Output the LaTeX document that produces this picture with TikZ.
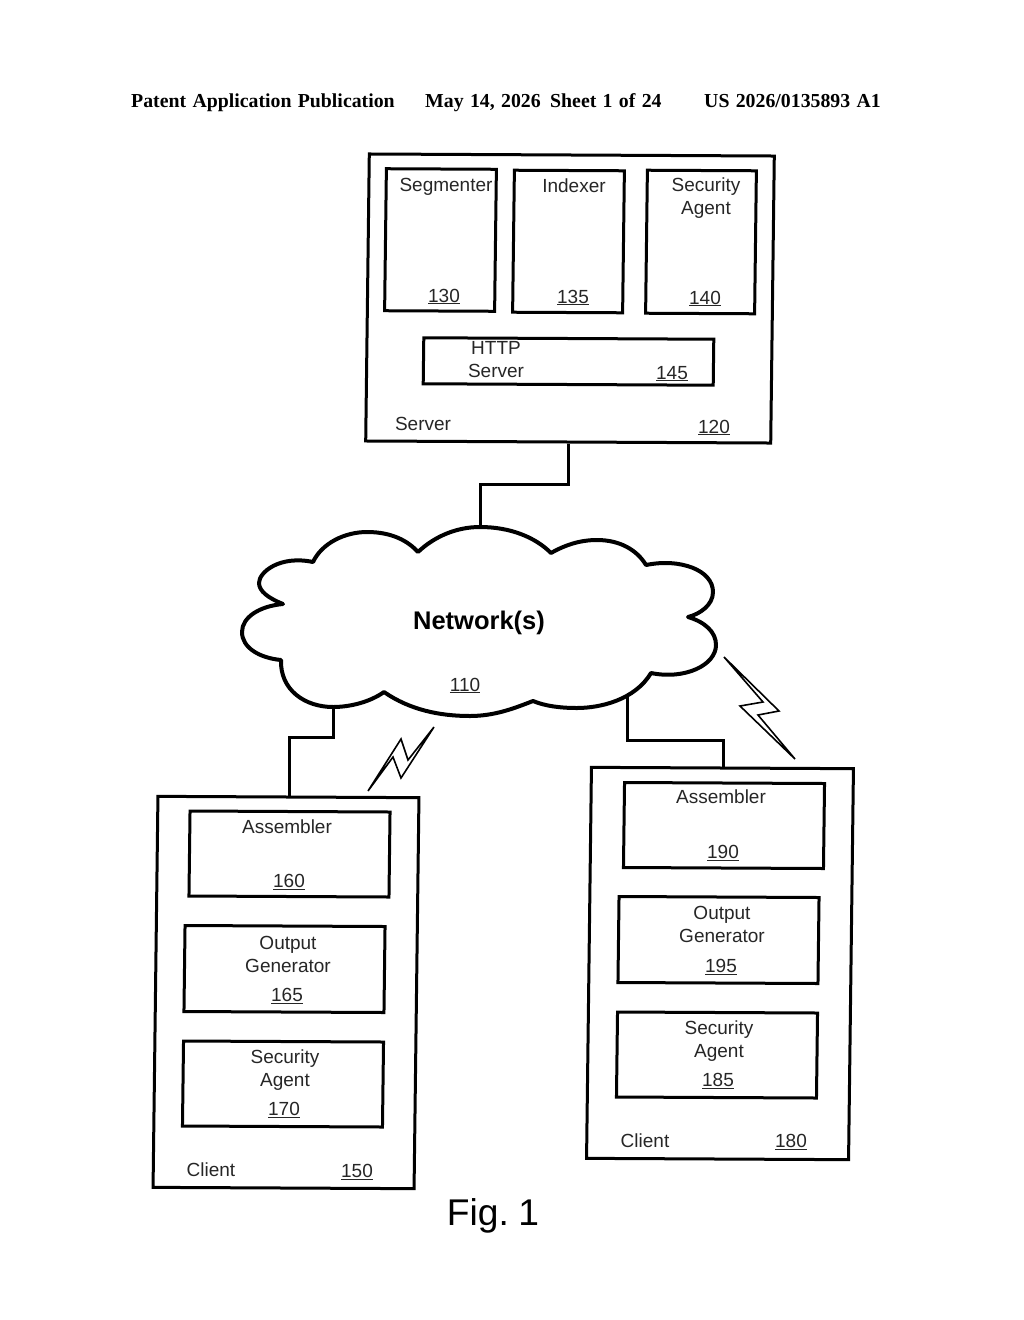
\documentclass[tikz,border=0pt]{standalone}
\usepackage{fontspec}
\setmainfont{Liberation Sans}
\newfontfamily\headfont[WordSpace=1.28]{Liberation Serif}
\tikzset{
  box/.style={draw=black, line width=3pt, cm={1,-0.005,0.0125,1,(0,0)}, inner sep=0pt},
  wire/.style={draw=black, line width=3pt},
  bolt/.style={draw=black, line width=1.6pt},
  lbl/.style={inner sep=0pt, text=black!85, font=\fontsize{19}{23}\selectfont, text height=14pt, text depth=0pt},
  lines/.style={inner sep=0pt, text=black!85, font=\fontsize{19}{23}\selectfont, align=center, anchor=north},
  head/.style={inner sep=0pt, anchor=base west, font=\headfont\bfseries\fontsize{19.8}{23}\selectfont}
}
\begin{document}
\begin{tikzpicture}[x=1pt, y=-1pt]
  \useasboundingbox (0,0) rectangle (1024,1320);

  % page header
  \node[head] (headA) at (131,107) {Patent Application Publication};
  \node[head] (headB) at (425,107) {May 14, 2026};
  \node[head] (headC) at (550,107) {Sheet 1 of 24};
  \node[head] (headD) at (704,107) {US 2026/0135893 A1};

  % server
  \node[box, minimum width=405pt, minimum height=287pt] (server) at (570,298.5) {};
  \node[box, minimum width=110pt, minimum height=142pt] (segmenter) at (440.5,240) {};
  \node[box, minimum width=110pt, minimum height=142pt] (indexer) at (568.5,241.5) {};
  \node[box, minimum width=109pt, minimum height=143pt] (secserver) at (701,242) {};
  \node[box, minimum width=290pt, minimum height=46pt] (http) at (568.5,361.5) {};

  \node[lbl] (segmentertxt) at (446,184) {Segmenter};
  \node[lbl] (indexertxt) at (574,185) {Indexer};
  \node[lines] (secservertxt) at (706,178) {Security\\Agent};
  \node[lbl] (n130) at (444,295) {\underline{130}};
  \node[lbl] (n135) at (573,296) {\underline{135}};
  \node[lbl] (n140) at (705,297) {\underline{140}};
  \node[lines] (httptxt) at (496,341) {HTTP\\Server};
  \node[lbl] (n145) at (672,372) {\underline{145}};
  \node[lbl] (servertxt) at (423,423) {Server};
  \node[lbl] (n120) at (714,426) {\underline{120}};

  % cloud
  \draw[line width=4pt, line join=round, fill=white]
    (283,604) .. controls (268,598) and (259,591) .. (259,583)
    .. controls (259,572) and (280,555) .. (313,562)
    .. controls (322,543) and (345,532) .. (367,532)
    .. controls (392,532) and (408,541) .. (418,552)
    .. controls (435,536) and (457,527) .. (480,527)
    .. controls (510,527) and (535,537) .. (551,553)
    .. controls (565,545) and (580,540) .. (597,540)
    .. controls (620,540) and (637,550) .. (646,565)
    .. controls (680,558) and (713,570) .. (713,592)
    .. controls (713,605) and (700,614) .. (688,617)
    .. controls (705,622) and (716,632) .. (716,645)
    .. controls (716,665) and (685,680) .. (651,673)
    .. controls (635,700) and (600,708) .. (577,708)
    .. controls (560,708) and (545,706) .. (533,701)
    .. controls (515,708) and (495,716) .. (470,716)
    .. controls (440,716) and (410,710) .. (384,692)
    .. controls (370,702) and (350,707) .. (333,707)
    .. controls (305,707) and (280,690) .. (281,660)
    .. controls (260,658) and (242,648) .. (242,632)
    .. controls (242,617) and (260,606) .. (283,604) -- cycle;
  \coordinate (cloudtop) at (480,527);
  \coordinate (cloudleft) at (333,707);
  \coordinate (cloudright) at (627,697);
  \node[inner sep=0pt, font=\bfseries\fontsize{25.5}{30}\selectfont, text height=18pt, text depth=0pt] (network) at (479,620) {Network(s)};
  \node[lbl] (n110) at (465,684) {\underline{110}};

  % client 150
  \node[box, minimum width=261pt, minimum height=391pt] (clientA) at (286,992.5) {};
  \node[box, minimum width=200pt, minimum height=85pt] (assemblerA) at (289.5,854) {};
  \node[box, minimum width=200pt, minimum height=86pt] (outputA) at (284.5,969) {};
  \node[box, minimum width=200pt, minimum height=85pt] (securityA) at (283,1084) {};

  \node[lbl] (assemblerAtxt) at (287,826.5) {Assembler};
  \node[lbl] (n160) at (289,880.5) {\underline{160}};
  \node[lines] (outputAtxt) at (288,936) {Output\\Generator};
  \node[lbl] (n165) at (287,994.5) {\underline{165}};
  \node[lines] (securityAtxt) at (285,1050) {Security\\Agent};
  \node[lbl] (n170) at (284,1108.5) {\underline{170}};
  \node[lbl] (clientAtxt) at (211,1169) {Client};
  \node[lbl] (n150) at (357,1170.5) {\underline{150}};

  % client 180
  \node[box, minimum width=262pt, minimum height=391pt] (clientB) at (720,963.5) {};
  \node[box, minimum width=200pt, minimum height=85pt] (assemblerB) at (724,825.5) {};
  \node[box, minimum width=200pt, minimum height=86pt] (outputB) at (718.5,940) {};
  \node[box, minimum width=200pt, minimum height=85pt] (securityB) at (717,1055) {};

  \node[lbl] (assemblerBtxt) at (721,796.5) {Assembler};
  \node[lbl] (n190) at (723,851.5) {\underline{190}};
  \node[lines] (outputBtxt) at (722,906) {Output\\Generator};
  \node[lbl] (n195) at (721,965.5) {\underline{195}};
  \node[lines] (securityBtxt) at (719,1021) {Security\\Agent};
  \node[lbl] (n185) at (718,1079.5) {\underline{185}};
  \node[lbl] (clientBtxt) at (645,1140) {Client};
  \node[lbl] (n180) at (791,1140.5) {\underline{180}};

  % connectors
  \coordinate (bendtop) at (480,484);
  \coordinate (bendleft) at (289,737);
  \coordinate (bendright) at (723,740);
  \draw[wire] (server.south) |- (bendtop) -- (cloudtop);
  \draw[wire] (cloudleft) |- (bendleft) -- (bendleft |- clientA.north);
  \draw[wire] (cloudright) |- (bendright) -- (bendright |- clientB.north);

  % wireless links
  \draw[bolt] (368,791) -- (401,739) -- (408,760) -- (434,727) -- (401,778) -- (393,757) -- cycle;
  \draw[bolt] (724,657) -- (779,711) -- (758,715) -- (795,759) -- (740,706) -- (763,702) -- cycle;

  \node[inner sep=0pt, font=\fontsize{37.2}{44}\selectfont, text height=27pt, text depth=0pt] (figure) at (493,1212) {Fig.\kern-1pt\ 1};
\end{tikzpicture}
\end{document}
